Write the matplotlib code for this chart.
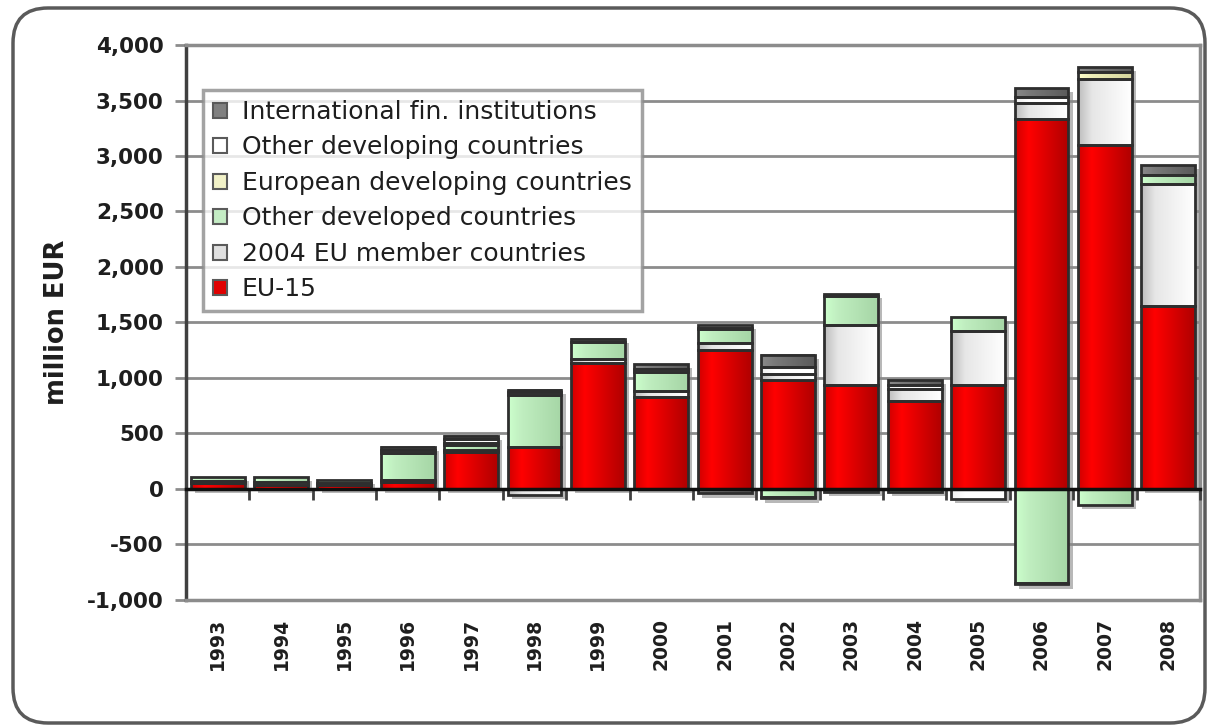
import numpy as np
import matplotlib
matplotlib.use("Agg")
import matplotlib.pyplot as plt
import matplotlib.patheffects as pe
from matplotlib.colors import LinearSegmentedColormap
from matplotlib.patches import Patch, FancyBboxPatch
from matplotlib.ticker import FuncFormatter

# ── Daten (Mio. EUR) ──
years = [str(y) for y in range(1993, 2009)]
eu15       = [50, 35, 40, 60, 330, 380, 1135, 830, 1255, 985, 935, 795, 940, 3330, 3100, 1650]
eu2004     = [25, 30, 15, 20, 20, -50, 40, 55, 60, 50, 545, 105, 480, 150, 590, 1100]
other_devd = [35, 45, 25, 240, 50, 470, 150, 170, 125, -75, 255, -30, 130, -850, -140, 80]
eur_deving = [0, 0, 0, 0, 10, 0, 0, 0, 10, -10, 0, 0, 0, -10, 70, 0]
oth_deving = [0, 0, 0, 30, 40, 20, 0, 30, 30, 60, 20, 40, -90, 50, 0, 0]
ifi        = [0, 0, 0, 30, 30, 20, 30, 40, -40, 110, -30, 45, 0, 80, 45, 90]

# Stapelreihenfolge unten -> oben: (Label, Werte, Legendenfarbe, Verlauf)
series = [
    ("EU-15", eu15, "#e00000", ["#d00000", "#ff0000", "#b00000"]),
    ("2004 EU member countries", eu2004, "#e0e0e0", ["#bdbdbd", "#e6e6e6", "#ffffff"]),
    ("Other developed countries", other_devd, "#c4ecc4", ["#ccffcc", "#c0eec0", "#a6d6a6"]),
    ("European developing countries", eur_deving, "#f2f2c8", ["#ffffcc", "#eeeeb8", "#d4d49c"]),
    ("Other developing countries", oth_deving, "#ffffff", ["#f0f0f0", "#ffffff", "#ffffff"]),
    ("International fin. institutions", ifi, "#808080", ["#8a8a8a", "#7a7a7a", "#5a5a5a"]),
]

plt.rcParams["font.family"] = ["DejaVu Sans"]

fig = plt.figure(figsize=(12.09, 7.27), dpi=100)
fig.patch.set_facecolor("white")

# abgerundeter Rahmen um die ganze Grafik
frame = FancyBboxPatch((0.13, 0.04), 11.92, 7.15,
                       boxstyle="round,pad=0,rounding_size=0.35",
                       transform=fig.dpi_scale_trans, facecolor="none",
                       edgecolor="#5a5a5a", linewidth=2.5, zorder=0)
fig.patches.append(frame)

ax = fig.add_axes([0.1538, 0.1747, 0.8387, 0.7634])
ax.set_facecolor("none")

x = np.arange(len(years))
width = 0.85
ymin, ymax = -1000, 4000

pos_bottom = np.zeros(len(years))
neg_bottom = np.zeros(len(years))
shadow = [pe.SimplePatchShadow(offset=(3, -3), shadow_rgbFace="#8a8a8a", alpha=0.6),
          pe.Normal()]

for label, vals, col, grad_cols in series:
    vals = np.array(vals, dtype=float)
    bottom = np.where(vals >= 0, pos_bottom, neg_bottom)
    # Grundfläche mit Schatten
    bars = ax.bar(x, vals, width, bottom=bottom, color=col, linewidth=0, zorder=2)
    for b in bars:
        b.set_path_effects(shadow)
    # Farbverlauf über jedes Segment
    cmap = LinearSegmentedColormap.from_list(label, list(zip([0, 0.25, 1], grad_cols)))
    grad = np.linspace(0, 1, 64).reshape(1, -1)
    for b, v in zip(bars, vals):
        if v == 0:
            continue
        x0, y0 = b.get_x(), b.get_y()
        ax.imshow(grad, extent=(x0, x0 + b.get_width(), y0, y0 + b.get_height()),
                  cmap=cmap, aspect="auto", interpolation="bilinear", zorder=2.1)
    # Umrandung
    edge = ax.bar(x, vals, width, bottom=bottom, fill=False,
                  edgecolor="#2e2e2e", linewidth=2, zorder=2.2)
    for b, v in zip(edge, vals):
        if v == 0:
            b.set_visible(False)
    pos_bottom = pos_bottom + np.where(vals >= 0, vals, 0)
    neg_bottom = neg_bottom + np.where(vals < 0, vals, 0)

ax.set_xlim(-0.5, len(years) - 0.5)
ax.set_ylim(ymin, ymax)

# ── Achsen ──
ax.set_yticks(np.arange(ymin, ymax + 1, 500))
ax.yaxis.set_major_formatter(FuncFormatter(lambda v, p: f"{v:,.0f}"))
ax.tick_params(axis="y", length=8, width=2, color="#8c8c8c", pad=8,
               labelsize=15.5, labelcolor="#1e1e1e")
for t in ax.get_yticklabels():
    t.set_fontweight("bold")
ax.set_ylabel("million EUR", fontsize=18.5, fontweight="bold", color="#1e1e1e", labelpad=12)

ax.set_xticks(x)
ax.set_xticklabels(years, rotation=90, fontsize=13.5, fontweight="bold", color="#1e1e1e")
ax.tick_params(axis="x", length=0, pad=13)

ax.yaxis.grid(True, color="#8c8c8c", linewidth=2)
ax.set_axisbelow(True)
ax.spines["left"].set_color("#404040")
ax.spines["left"].set_linewidth(2.5)
for s in ["top", "right", "bottom"]:
    ax.spines[s].set_color("#8c8c8c")
    ax.spines[s].set_linewidth(2.5)

# Nulllinie mit Kategorie-Teilstrichen
zero_pos = (0 - ymin) / (ymax - ymin)
sec = ax.secondary_xaxis(zero_pos)
sec.set_xticks(np.arange(-0.5, len(years), 1))
sec.set_xticklabels([])
sec.tick_params(axis="x", direction="out", length=8, width=2, color="#404040")
sec.spines["bottom"].set_color("#101010")
sec.spines["bottom"].set_linewidth(2.5)
sec.set_zorder(4)

# ── Legende ──
handles = [Patch(facecolor=col, edgecolor="#5a5a5a", linewidth=1.5, label=label)
           for label, vals, col, g in series][::-1]
leg = ax.legend(handles=handles, loc="upper left", bbox_to_anchor=(0.0168, 0.919),
                borderaxespad=0, fontsize=18, frameon=True, fancybox=False,
                handlelength=0.55, handleheight=0.55, handletextpad=0.6,
                labelspacing=0.46, borderpad=0.4)
leg.get_frame().set_edgecolor("#8c8c8c")
leg.get_frame().set_linewidth(2.5)
leg.set_zorder(5)
for t in leg.get_texts():
    t.set_color("#1e1e1e")

plt.savefig("out.png", dpi=100)
